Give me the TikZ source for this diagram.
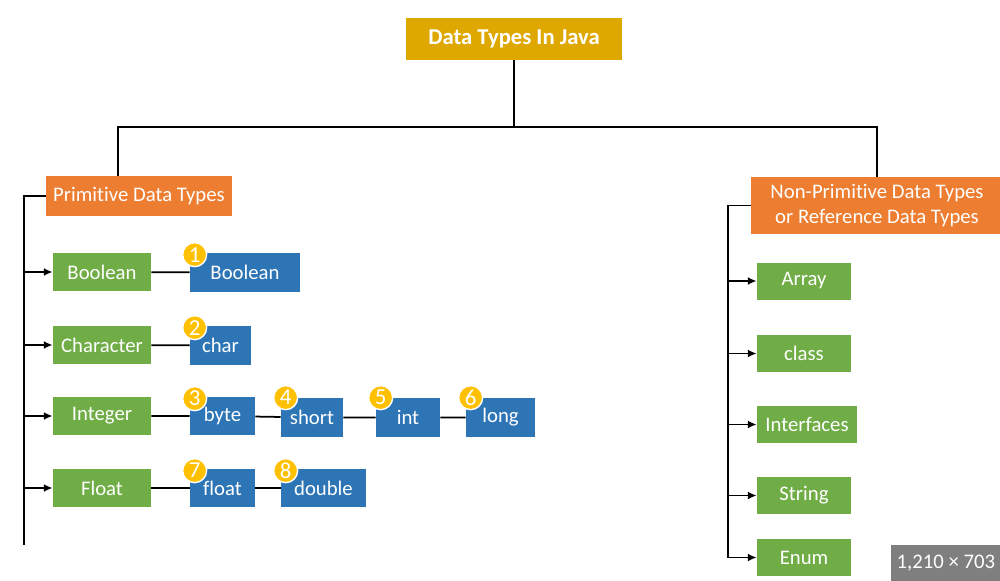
\documentclass[tikz,border=0pt]{standalone}
\usepackage{fontspec}
\setmainfont[Ligatures=NoCommon]{Carlito}
\usepackage{tikz}
\usetikzlibrary{arrows.meta}
\newlength\px
\setlength\px{0.02cm}
\definecolor{cgold}{HTML}{DEA800}
\definecolor{corange}{HTML}{ED7D31}
\definecolor{cgreen}{HTML}{70AD47}
\definecolor{cblue}{HTML}{2E75B6}
\definecolor{cyellow}{HTML}{FFC000}
\definecolor{cgrey}{HTML}{7F7F7F}

\begin{document}
\begin{tikzpicture}[x=0.02cm, y=-0.02cm,
    box/.style={rectangle, text=white, inner sep=0pt, font=\fontsize{11.8}{14.5}\selectfont},
    head/.style={box, fill=cgold, font=\fontsize{12.9}{15}\selectfont\bfseries},
    group/.style={box, fill=corange},
    kind/.style={box, fill=cgreen, minimum height=38\px},
    leaf/.style={box, fill=cblue, minimum height=39\px},
    badge/.style={circle, fill=cyellow, draw=white, line width=0.8pt, minimum size=24\px,
        inner sep=0pt, text=white, font=\fontsize{13}{15}\selectfont},
    link/.style={line width=1pt},
    feed/.style={line width=1pt, -{Latex[length=5pt,width=4.5pt]}}]
    \useasboundingbox (0,0) rectangle (1000,581);
    % top of the tree
    \node[head, minimum width=216\px, minimum height=42\px] (java) at (514,39) {Data Types In Java};
    \node[group, minimum width=186\px, minimum height=40\px] (prim) at (139,196) {Primitive Data Types};
    \node[group, minimum width=252\px, minimum height=57\px, align=center] (ref) at (877,205.5)
        {Non-Primitive Data Types\\or Reference Data Types};
    \draw[link] (java.south) -- ++(0,67) coordinate (split);
    \draw[link] ([xshift=-21\px]prim.north) |- (split) -| (ref.north);

    % primitive kinds
    \node[kind, minimum width=98\px] (bool) at (102,272) {Boolean};
    \node[kind, minimum width=98\px] (char) at (102,345) {Character};
    \node[kind, minimum width=98\px] (int) at (102,416) {Integer};
    \node[kind, minimum width=98\px] (float) at (102,488) {Float};
    \coordinate (pend) at (24,545);
    \draw[link] (prim.west) -| (pend);
    \foreach \k in {bool,char,int,float}
        \draw[feed] (pend |- \k.west) -- (\k.west);

    % primitive types
    \node[leaf, minimum width=110\px] (tbool) at (245,272.5) {Boolean};
    \node[leaf, minimum width=61\px] (tchar) at (220.5,345.5) {char};
    \node[leaf, minimum width=65\px, minimum height=38\px] (tbyte) at (222.5,416) {byte};
    \node[leaf, minimum width=62\px] (tshort) at (312,417.5) {short};
    \node[leaf, minimum width=64\px] (tint) at (408,417.5) {int};
    \node[leaf, minimum width=69\px] (tlong) at (500.5,417.5) {long};
    \node[leaf, minimum width=65\px, minimum height=38\px] (tfloat) at (222.5,488) {float};
    \node[leaf, minimum width=85\px, minimum height=38\px] (tdouble) at (323.5,488) {double};
    \draw[link] (bool) -- (tbool);
    \draw[link] (char) -- (tchar);
    \draw[link] (int) -- (tbyte) -- (tshort) -- (tint) -- (tlong);
    \draw[link] (float) -- (tfloat) -- (tdouble);
    \node[badge] (n1) at ([shift={(5,2)}]tbool.north west) {1};
    \node[badge] (n2) at ([shift={(5,2)}]tchar.north west) {2};
    \node[badge] (n3) at ([shift={(5,2)}]tbyte.north west) {3};
    \node[badge] (n4) at ([shift={(5,0)}]tshort.north west) {4};
    \node[badge] (n5) at ([shift={(5,0)}]tint.north west) {5};
    \node[badge] (n6) at ([shift={(5,0)}]tlong.north west) {6};
    \node[badge] (n7) at ([shift={(5,2)}]tfloat.north west) {7};
    \node[badge] (n8) at ([shift={(5,2)}]tdouble.north west) {8};

    % non-primitive types
    \node[kind, minimum width=94\px, minimum height=37\px] (array) at (804,281) {Array};
    \node[kind, minimum width=94\px, minimum height=37\px] (class) at (804,353.5) {class};
    \node[kind, minimum width=100\px, minimum height=37\px] (iface) at (807,424.5) {Interfaces};
    \node[kind, minimum width=94\px, minimum height=37\px] (string) at (804,495.5) {String};
    \node[kind, minimum width=94\px, minimum height=37\px] (enum) at (804,557.5) {Enum};
    \coordinate (rend) at (728,557.5);
    \draw[link] (ref.west) -| (rend);
    \foreach \k in {array,class,iface,string,enum}
        \draw[feed] (rend |- \k.west) -- (\k.west);

    \node[box, fill=cgrey, anchor=north west, minimum width=109\px, minimum height=36\px]
        (size) at (891,545) {1,210 × 703};
\end{tikzpicture}
\end{document}
